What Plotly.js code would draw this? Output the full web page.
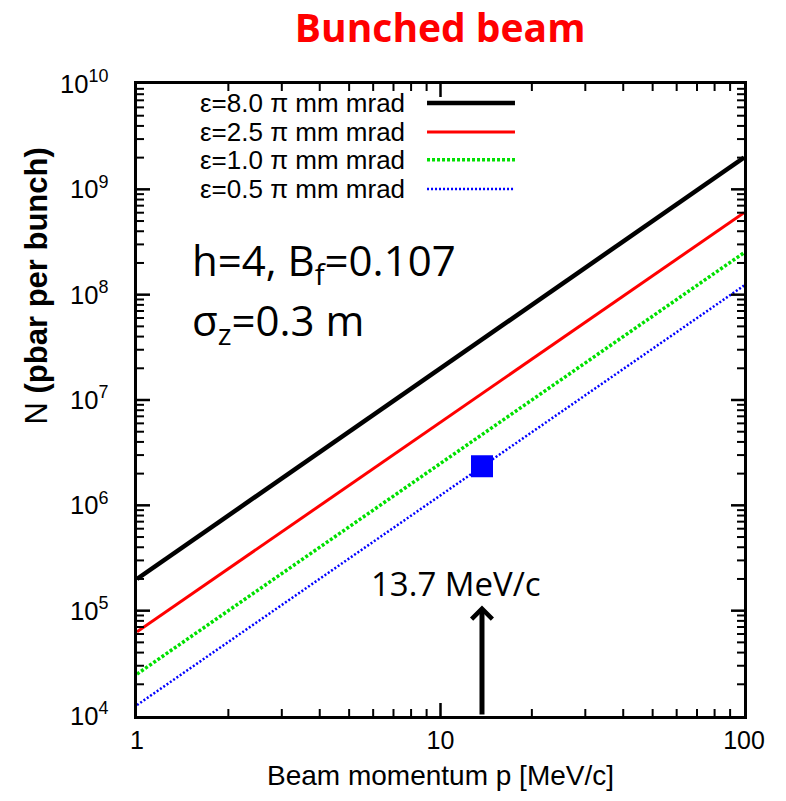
<!DOCTYPE html>
<html>
<head>
<meta charset="utf-8">
<script src="https://cdn.plot.ly/plotly-3.0.1.min.js"></script>
<style>html,body{margin:0;padding:0;background:#fff;}#chart{width:786px;height:801px;}</style>
</head>
<body>
<div id="chart"></div>
<script>
// ---- data ----
const momentum = [1, 10, 100];                 // Beam momentum p [MeV/c]
const N_eps80 = [2.0e5, 2.0e7, 2.0e9];          // ε=8.0 π mm mrad
const N_eps25 = [6.3e4, 6.2e6, 6.0e8];          // ε=2.5 π mm mrad
const N_eps10 = [2.5e4, 2.5e6, 2.5e8];          // ε=1.0 π mm mrad
const N_eps05 = [1.27e4, 1.25e6, 1.22e8];       // ε=0.5 π mm mrad
const seriesNames = ['ε=8.0 π mm mrad', 'ε=2.5 π mm mrad', 'ε=1.0 π mm mrad', 'ε=0.5 π mm mrad'];
const pointP = [13.7];
const pointN = [2.35e6];
const arrowP = 13.7, arrowBaseN = 1e4, arrowTipN = 1.12e5;
const yRangeExp = [4, 10];   // 10^4 .. 10^10
const xRangeExp = [0, 2];    // 1 .. 100

// tick positions: interior decades (major) and 2..9 in each decade (minor)
const majorX = [], majorY = [], minorX = [], minorY = [];
for (let d = xRangeExp[0]; d < xRangeExp[1]; d++) {
  if (d > xRangeExp[0]) majorX.push(Math.pow(10, d));
  for (let k = 2; k <= 9; k++) minorX.push(k * Math.pow(10, d));
}
for (let d = yRangeExp[0]; d < yRangeExp[1]; d++) {
  if (d > yRangeExp[0]) majorY.push(Math.pow(10, d));
  for (let k = 2; k <= 9; k++) minorY.push(k * Math.pow(10, d));
}

const W = 786, H = 801, M = {l: 137, r: 42, t: 84, b: 85};
const pxPerDecX = (W - M.l - M.r) / (xRangeExp[1] - xRangeExp[0]);
const pxPerDecY = (H - M.t - M.b) / (yRangeExp[1] - yRangeExp[0]);

const styles = [
  {color: '#000000', width: 4.5, dash: 'solid'},
  {color: '#ff0000', width: 3, dash: 'solid'},
  {color: '#00e000', width: 3.5, dash: '3px,2px'},
  {color: '#0000ff', width: 2.5, dash: '2px,2px'}
];
const seriesData = [N_eps80, N_eps25, N_eps10, N_eps05];

const traces = seriesData.map((ys, i) => ({
  x: momentum, y: ys, type: 'scatter', mode: 'lines', name: seriesNames[i],
  line: {color: styles[i].color, width: styles[i].width, dash: styles[i].dash},
  showlegend: false, hoverinfo: 'skip'
}));
traces.push({
  x: pointP, y: pointN, type: 'scatter', mode: 'markers',
  marker: {symbol: 'square', size: 22, color: '#0000ff'},
  showlegend: false, hoverinfo: 'skip'
});

// inside tick marks on all four frame sides, built from the tick positions
function xTickTrace(vals, lenPx, width) {
  const f = Math.pow(10, lenPx / pxPerDecY);
  const lo = Math.pow(10, yRangeExp[0]), hi = Math.pow(10, yRangeExp[1]);
  const xs = [], ys = [];
  vals.forEach(v => { xs.push(v, v, null, v, v, null); ys.push(lo, lo * f, null, hi, hi / f, null); });
  return {x: xs, y: ys, type: 'scatter', mode: 'lines', line: {color: '#000', width: width},
    showlegend: false, hoverinfo: 'skip', connectgaps: false};
}
function yTickTrace(vals, lenPx, width) {
  const f = Math.pow(10, lenPx / pxPerDecX);
  const lo = Math.pow(10, xRangeExp[0]), hi = Math.pow(10, xRangeExp[1]);
  const xs = [], ys = [];
  vals.forEach(v => { xs.push(lo, lo * f, null, hi, hi / f, null); ys.push(v, v, null, v, v, null); });
  return {x: xs, y: ys, type: 'scatter', mode: 'lines', line: {color: '#000', width: width},
    showlegend: false, hoverinfo: 'skip', connectgaps: false};
}
traces.push(xTickTrace(majorX, 13, 2.5));
traces.push(xTickTrace(minorX, 7, 2));
traces.push(yTickTrace(majorY, 13, 2.5));
traces.push(yTickTrace(minorY, 7, 2));

const shapes = [];
const annotations = [];

// manual legend (text on left, sample line on right)
const legRowsY = [0.970, 0.924, 0.880, 0.834];
seriesNames.forEach((nm, i) => {
  shapes.push({type: 'line', xref: 'paper', yref: 'paper', x0: 0.4778, x1: 0.6227,
    y0: legRowsY[i], y1: legRowsY[i],
    line: {color: styles[i].color, width: styles[i].width, dash: styles[i].dash}});
  annotations.push({xref: 'paper', yref: 'paper', x: 0.4448, y: legRowsY[i],
    xanchor: 'right', yanchor: 'middle', showarrow: false, text: nm,
    font: {family: 'Liberation Sans, Arial, sans-serif', size: 26, color: '#000'}});
});

annotations.push({xref: 'paper', yref: 'paper', x: 0.0873, y: 0.717, xanchor: 'left', yanchor: 'middle',
  showarrow: false, text: 'h=4, B<sub>f</sub>=0.107',
  font: {family: 'Open Sans, Noto Sans, sans-serif', size: 42, color: '#000'}});
annotations.push({xref: 'paper', yref: 'paper', x: 0.0873, y: 0.623, xanchor: 'left', yanchor: 'middle',
  showarrow: false, text: 'σ<sub>z</sub>=0.3 m',
  font: {family: 'Open Sans, Noto Sans, sans-serif', size: 42, color: '#000'}});
annotations.push({xref: 'paper', yref: 'paper', x: 0.5255, y: 0.2104, xanchor: 'center', yanchor: 'middle',
  showarrow: false, text: '13.7 MeV/c',
  font: {family: 'Open Sans, Noto Sans, sans-serif', size: 33, color: '#000'}});
annotations.push({xref: 'x', yref: 'y', axref: 'x', ayref: 'y',
  x: Math.log10(arrowP), y: Math.log10(arrowTipN),
  ax: Math.log10(arrowP), ay: Math.log10(arrowBaseN),
  showarrow: true, arrowhead: 4, arrowsize: 0.8, arrowwidth: 5, arrowcolor: '#000', text: ''});
// y-axis title (placed as in the reference, above plot centre)
annotations.push({xref: 'paper', yref: 'paper', x: -0.166, y: 0.68, xanchor: 'center', yanchor: 'middle',
  showarrow: false, textangle: -90, text: 'N <b>(pbar per bunch)</b>',
  font: {family: 'Liberation Sans, Arial, sans-serif', size: 31, color: '#000'}});
// x-axis title
annotations.push({xref: 'paper', yref: 'paper', x: 0.5, y: -0.094, xanchor: 'center', yanchor: 'middle',
  showarrow: false, text: 'Beam momentum p [MeV/c]',
  font: {family: 'Liberation Sans, Arial, sans-serif', size: 28, color: '#000'}});

const layout = {
  width: W, height: H,
  margin: M,
  showlegend: false,
  title: {text: '<b>Bunched beam</b>', x: 0.56, xanchor: 'center', xref: 'container',
    y: 0.964, yanchor: 'middle', yref: 'container',
    font: {family: 'Open Sans, Noto Sans, sans-serif', size: 39, color: '#ff0000'}},
  xaxis: {type: 'log', range: xRangeExp, showline: true, linewidth: 3, linecolor: '#000', mirror: true,
    ticks: '', dtick: 1, showgrid: false,
    tickfont: {family: 'Liberation Sans, Arial, sans-serif', size: 25, color: '#000'}},
  yaxis: {type: 'log', range: yRangeExp, showline: true, linewidth: 3, linecolor: '#000', mirror: true,
    ticks: '', dtick: 1, exponentformat: 'power', showgrid: false,
    ticksuffix: '\u00a0\u00a0\u00a0',
    tickfont: {family: 'Liberation Sans, Arial, sans-serif', size: 20.5, color: '#000'}},
  shapes: shapes,
  annotations: annotations
};

Plotly.newPlot('chart', traces, layout, {staticPlot: true, displayModeBar: false});
</script>
</body>
</html>
